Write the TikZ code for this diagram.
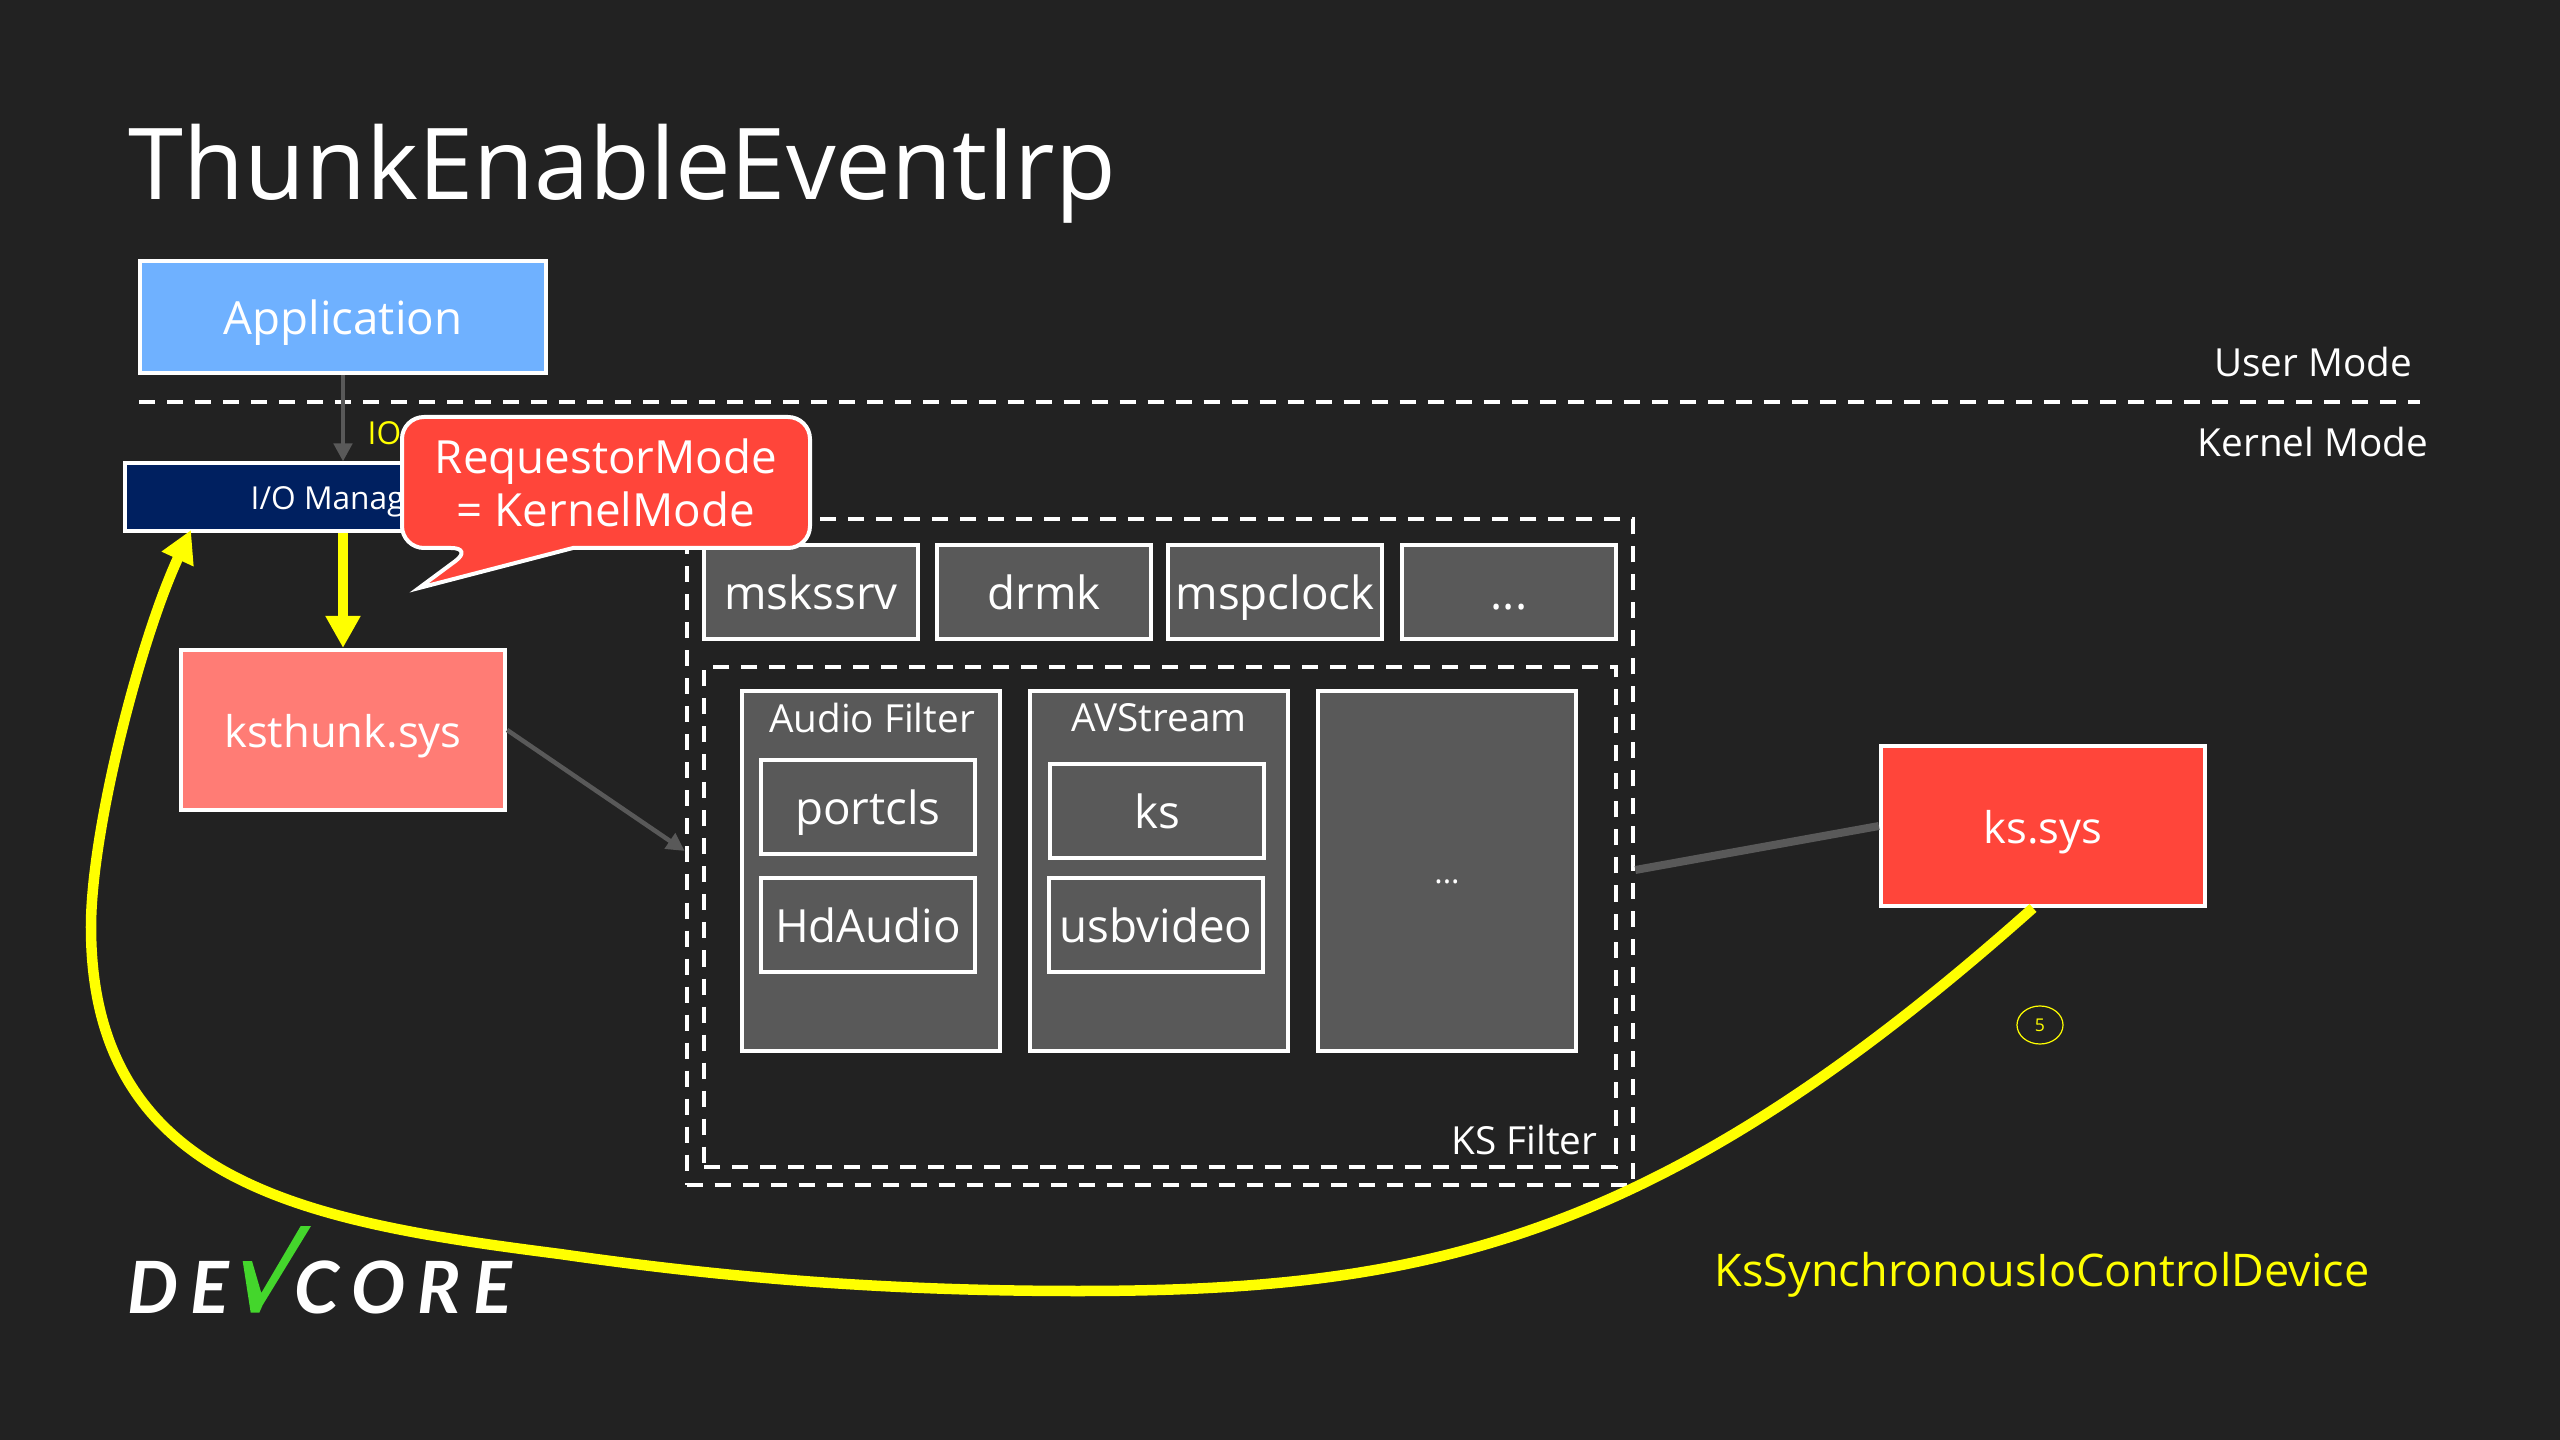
\documentclass[tikz,border=0pt]{standalone}
\usepackage{fontspec}
\setmainfont{Open Sans}
\newfontfamily\logofont{Lato}
\usetikzlibrary{arrows.meta, positioning, calc, shapes.geometric}
\definecolor{cBg}{RGB}{34,34,34}
\definecolor{cGrey}{RGB}{89,89,89}
\definecolor{cBlue}{RGB}{111,177,255}
\definecolor{cNavy}{RGB}{0,32,96}
\definecolor{cPink}{RGB}{255,124,117}
\definecolor{cRed}{RGB}{255,69,58}
\definecolor{cYellow}{RGB}{255,255,0}
\definecolor{cGreen}{RGB}{68,214,44}
\tikzset{
	blk/.style    ={rectangle, draw=white, line width=.04cm, text=white, align=center, inner sep=0pt, text height=.44cm, text depth=.10cm},
	greybox/.style={blk, fill=cGrey, font=\fontsize{13}{13}\selectfont},
	sysbox/.style ={blk, minimum width=3.24cm, minimum height=1.60cm, font=\fontsize{12.4}{13}\selectfont},
	frame/.style  ={rectangle, draw=white, line width=.04cm, dash pattern=on .16cm off .12cm},
	lbl/.style    ={text=white, inner sep=0pt, font=\fontsize{11}{11}\selectfont},
	sig/.style    ={-{Triangle[length=.18cm, width=.18cm]}, draw=cGrey, line width=.045cm},
	yel/.style    ={-{Triangle[length=.32cm, width=.33cm]}, draw=cYellow, line width=.105cm},
}
\begin{document}
\begin{tikzpicture}[x=.01cm, y=-.01cm]
	\fill[cBg] (0,0) rectangle (2560,1440);
	\node[text=white, inner sep=0pt, anchor=base west, font=\fontsize{28.2}{30}\selectfont] (title) at (128,200) {ThunkEnableEventIrp};
	% user mode part
	\node[blk, fill=cBlue, minimum width=4.06cm, minimum height=1.12cm, font=\fontsize{13}{13}\selectfont] (app) at (343,317) {Application};
	\draw[frame] (139,402) -- (2420,402);
	\node[lbl] (user) at (2313,362) {User Mode};
	\node[lbl] (kernel) at (2313,442) {Kernel Mode};
	\node[blk, fill=cNavy, minimum width=4.36cm, minimum height=.67cm, text height=.32cm, text depth=.08cm, font=\fontsize{9}{9}\selectfont] (iomgr) at (343,497) {I/O Manager};
	\node[text=cYellow, inner sep=0pt, font=\fontsize{9}{9}\selectfont, anchor=west] (io) at (367,433) {IO};
	\node[sysbox, fill=cPink] (ksthunk) at (343,730) {ksthunk.sys};
	\node[sysbox, fill=cRed] (kssys) at (2043,826) {ks.sys};
	% ks filter
	\node[frame, minimum width=9.46cm, minimum height=6.65cm] (outer) at (1160,852) {};
	\node[frame, minimum width=9.11cm, minimum height=4.99cm] (filter) at (1160,917) {};
	\foreach \nm/\cx in {mskssrv/811, drmk/1044, mspclock/1275}
		\node[greybox, minimum width=2.13cm, minimum height=.94cm] (\nm) at (\cx,592) {\nm};
	\node[greybox, minimum width=2.13cm, minimum height=.94cm] (rowmore) at (1509,592) {...};
	\foreach \nm/\cx in {audio/871, avstream/1159, bigmore/1447}
		\node[greybox, minimum width=2.58cm, minimum height=3.59cm] (\nm) at (\cx,871) {};
	\node[lbl] (audiotxt) at (872,718) {Audio Filter};
	\node[lbl] (avtxt) at (1159,718) {AVStream};
	\node[lbl, font=\fontsize{9}{9}\selectfont] (moretxt) at (1447,882) {...};
	\foreach \nm/\cx/\cy/\txt in {portcls/868/807/portcls, hdaudio/868/925/HdAudio, ks/1157/811/ks, usbvideo/1156/925/usbvideo}
		\node[greybox, minimum width=2.14cm, minimum height=.94cm] (\nm) at (\cx,\cy) {\txt};
	\node[lbl, anchor=east] (kstxt) at (1598,1140) {KS Filter};
	% connectors
	\draw[sig] (app) -- (iomgr);
	\draw[yel] (iomgr) -- (ksthunk);
	\draw[sig] (ksthunk.east) -- (outer.west |- 0,851);
	\draw[draw=cGrey, line width=.08cm] (outer.east |- 0,870) -- (kssys.west);
	\coordinate (ioend) at (191,530);
	\draw[yel] (2033,908) .. controls (1660,1240) and (1430,1291) .. (1078,1291)
		.. controls (880,1291) and (720,1277) .. (560,1254)
		.. controls (310,1222) and (91,1185) .. (91,927)
		.. controls (91,830) and (140,640) .. (ioend);
	\node[draw=cYellow, ellipse, line width=.012cm, minimum width=.46cm, minimum height=.38cm, inner sep=0pt, text=cYellow, font=\fontsize{5}{5}\selectfont] (five) at (2040,1025) {5};
	\node[text=cYellow, inner sep=0pt, font=\fontsize{12.8}{13}\selectfont] (ioctl) at (2042,1275) {KsSynchronousIoControlDevice};
	% callout
	\draw[draw=white, fill=cRed, line width=.04cm, rounded corners=.22cm] (573,548) -- (810,548) -- (810,417) -- (402,417) -- (402,548) -- (473,548) [sharp corners] -- (419,588) -- cycle;
	\node[text=white, inner sep=0pt, align=center, font=\fontsize{13}{15}\selectfont] (reqmode) at (606,483) {RequestorMode\\= KernelMode};
	% logo
	\node[text=white, inner sep=0pt, anchor=base west, font=\logofont\bfseries\itshape\fontsize{20.5}{20}\selectfont] (logode) at (127,1313) {D\,E};
	\node[text=white, inner sep=0pt, anchor=base west, font=\logofont\bfseries\itshape\fontsize{20.5}{20}\selectfont] (logocore) at (294,1313) {C\,O\,R\,E};
	\fill[cGreen] (242.7,1261) -- (252,1261) -- (261.3,1293) -- (300.7,1226) -- (311,1226) -- (262.7,1305) -- (259.3,1312.7) -- (250.7,1312.7) -- cycle;
\end{tikzpicture}
\end{document}
